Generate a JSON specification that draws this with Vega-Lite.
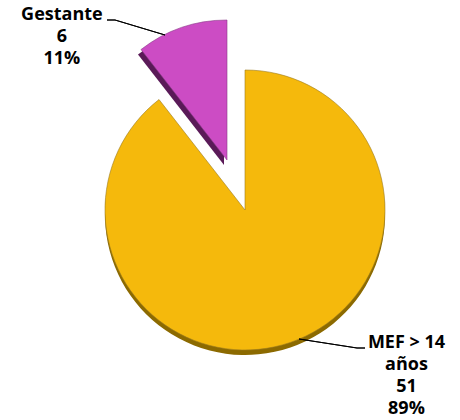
{
  "$schema": "https://vega.github.io/schema/vega-lite/v6.json",
  "autosize": "none",
  "width": 430,
  "height": 420,
  "padding": {"left": 30, "top": 0, "right": 0, "bottom": 0},
  "background": "white",
  "config": {"view": {"stroke": null}},
  "data": {"values": [
    {"categoria": "MEF > 14 años", "casos": 51, "pct": "89%", "orden": 1, "lineas": ["MEF > 14", "años", "51", "89%"]},
    {"categoria": "Gestante", "casos": 6, "pct": "11%", "orden": 2, "lineas": ["Gestante", "6", "11%"]}
  ]},
  "layer": [
    {
      "mark": {"type": "arc", "outerRadius": 140, "fill": "#8c6a00", "yOffset": 5},
      "encoding": {
        "theta": {"field": "casos", "type": "quantitative", "stack": true},
        "order": {"field": "orden", "type": "quantitative"},
        "opacity": {"condition": {"test": "datum.orden == 1", "value": 1}, "value": 0}
      }
    },
    {
      "mark": {"type": "arc", "outerRadius": 140, "fill": "#F5B90C", "stroke": "#9a7a20", "strokeWidth": 0.6},
      "encoding": {
        "theta": {"field": "casos", "type": "quantitative", "stack": true},
        "order": {"field": "orden", "type": "quantitative"},
        "opacity": {"condition": {"test": "datum.orden == 1", "value": 1}, "value": 0}
      }
    },
    {
      "mark": {"type": "arc", "outerRadius": 140, "fill": "#5a1a58", "xOffset": -21, "yOffset": -45},
      "encoding": {
        "theta": {"field": "casos", "type": "quantitative", "stack": true},
        "order": {"field": "orden", "type": "quantitative"},
        "opacity": {"condition": {"test": "datum.orden == 2", "value": 1}, "value": 0}
      }
    },
    {
      "mark": {"type": "arc", "outerRadius": 140, "fill": "#CC4CC4", "stroke": "#8a3a88", "strokeWidth": 0.6, "xOffset": -18, "yOffset": -50},
      "encoding": {
        "theta": {"field": "casos", "type": "quantitative", "stack": true},
        "order": {"field": "orden", "type": "quantitative"},
        "opacity": {"condition": {"test": "datum.orden == 2", "value": 1}, "value": 0}
      }
    },
    {
      "mark": {"type": "text", "radius": 182, "dx": -124, "dy": -23, "font": "Open Sans", "fontWeight": "bold", "fontSize": 18, "lineHeight": 22, "align": "center", "baseline": "middle", "color": "black"},
      "encoding": {
        "theta": {"field": "casos", "type": "quantitative", "stack": true},
        "order": {"field": "orden", "type": "quantitative"},
        "text": {"field": "lineas", "type": "nominal"},
        "opacity": {"condition": {"test": "datum.orden == 2", "value": 1}, "value": 0}
      }
    },
    {
      "mark": {"type": "text", "radius": 177, "dx": 104, "dy": -34, "font": "Open Sans", "fontWeight": "bold", "fontSize": 18, "lineHeight": 22, "align": "center", "baseline": "middle", "color": "black"},
      "encoding": {
        "theta": {"field": "casos", "type": "quantitative", "stack": true},
        "order": {"field": "orden", "type": "quantitative"},
        "text": {"field": "lineas", "type": "nominal"},
        "opacity": {"condition": {"test": "datum.orden == 1", "value": 1}, "value": 0}
      }
    },
    {
      "mark": {"type": "rule", "color": "black", "strokeWidth": 1},
      "encoding": {
        "x": {"datum": -138, "type": "quantitative", "scale": {"domain": [-215, 215], "nice": false, "zero": false}, "axis": null},
        "y": {"datum": 190, "type": "quantitative", "scale": {"domain": [-210, 210], "nice": false, "zero": false}, "axis": null},
        "x2": {"datum": -130},
        "y2": {"datum": 190}
      }
    },
    {
      "mark": {"type": "rule", "color": "black", "strokeWidth": 1},
      "encoding": {
        "x": {"datum": -130, "type": "quantitative"},
        "y": {"datum": 190, "type": "quantitative"},
        "x2": {"datum": -80},
        "y2": {"datum": 175}
      }
    },
    {
      "mark": {"type": "rule", "color": "black", "strokeWidth": 1},
      "encoding": {
        "x": {"datum": 54, "type": "quantitative"},
        "y": {"datum": -129, "type": "quantitative"},
        "x2": {"datum": 112},
        "y2": {"datum": -138}
      }
    },
    {
      "mark": {"type": "rule", "color": "black", "strokeWidth": 1},
      "encoding": {
        "x": {"datum": 112, "type": "quantitative"},
        "y": {"datum": -138, "type": "quantitative"},
        "x2": {"datum": 120},
        "y2": {"datum": -138}
      }
    }
  ]
}
